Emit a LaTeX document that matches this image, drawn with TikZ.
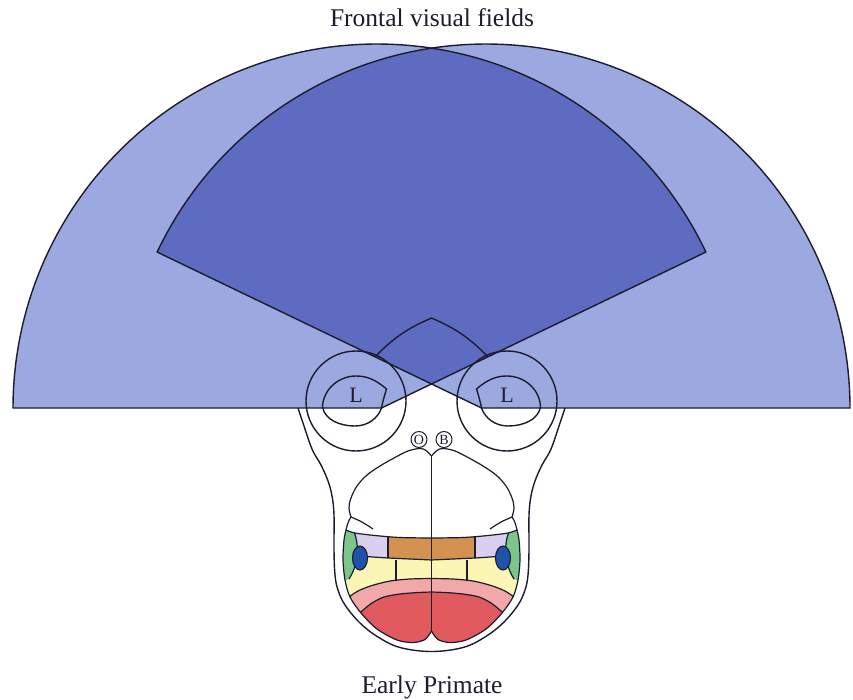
\documentclass[tikz,border=0pt]{standalone}
\usepackage{fontspec}
\setmainfont{Liberation Serif}
\definecolor{ink}{RGB}{28,28,45}
\definecolor{fieldlight}{RGB}{156,168,224}
\definecolor{fielddark}{RGB}{93,107,192}
\definecolor{lavc}{RGB}{216,208,238}
\definecolor{orangec}{RGB}{211,146,80}
\definecolor{greenc}{RGB}{124,198,140}
\definecolor{bluec}{RGB}{32,82,172}
\definecolor{yellowc}{RGB}{251,246,182}
\definecolor{pinkc}{RGB}{242,168,168}
\definecolor{redc}{RGB}{224,90,94}

% outline of the lens of the left eye (mirrored for the right eye)
\newcommand\lensoutline{%
  \draw[outline] (381.5,408) .. controls (383,400) and (385,394) .. (386.5,389)
    .. controls (375,379) and (366,376) .. (356,376)
    .. controls (338,376) and (323,390) .. (322.5,407)
    .. controls (325,420) and (340,426) .. (355,426)
    .. controls (368,426) and (378,418) .. (381.5,408) -- cycle;}

% one hemisphere of the brain (mirrored for the other one)
\newcommand\brainhalf{%
  % upper (white) lobe and its fold
  \draw[brainline] plot[smooth,tension=0.6] coordinates {(431.5,456) (426,450.5) (420,448.5) (408,451) (394,458) (380,466) (367,475) (357,486) (351,498) (349,508) (351,517)};
  \draw[brainline] plot[smooth] coordinates {(351,517) (360,521) (367,525) (373,529)};
  \draw[brainline] (351,517) .. controls (348,521) and (347,526) .. (346,530);
  % coloured cortex fields
  \begin{scope}
    \clip plot[smooth] coordinates {(431.5,538) (400,537.5) (375,535.5) (355,533) (346,530)}
      -- plot[smooth] coordinates {(346,530) (344,540) (343,560) (345,580) (350,597) (361,613) (377,629) (397,640) (413,642.5) (425,639.5) (431.5,631)} -- cycle;
    \fill[yellowc] (320,520) rectangle (440,660);
    \fill[lavc] (320,520) -- (388,520) -- (388,558) -- (340,555.5) -- (320,555.5) -- cycle;
    \fill[orangec] (388,520) -- (440,520) -- (440,560) -- (432,560) -- (388,558) -- cycle;
    \fill[greenc] (320,520) -- (352,520) -- (352.5,529) .. controls (359,540) and (360,562) .. (349,579) -- (320,590) -- cycle;
    \fill[pinkc] plot[smooth] coordinates {(340,604) (347,598.5) (358,591) (372,585.5) (390,581) (410,579) (432,578.5)} -- (440,578.5) -- (440,660) -- (320,660) -- cycle;
    \fill[redc] plot[smooth] coordinates {(352,620) (362,611) (372,603) (384,597) (400,594) (418,592.5) (432,592)} -- (440,592) -- (440,660) -- (320,660) -- cycle;
    \draw[brainline] (358,556) -- (388,558) -- (432,560);
    \draw[brainline] (388,536) -- (388,558);
    \draw[brainline] (396,559.5) -- (396,581);
    \draw[brainline] (352.5,529) .. controls (359,540) and (360,562) .. (349,579);
    \draw[brainline] plot[smooth] coordinates {(340,604) (347,598.5) (358,591) (372,585.5) (390,581) (410,579) (432,578.5)};
    \draw[brainline] plot[smooth] coordinates {(352,620) (362,611) (372,603) (384,597) (400,594) (418,592.5) (432,592)};
  \end{scope}
  \draw[brainline] plot[smooth] coordinates {(431.5,538) (400,537.5) (375,535.5) (355,533) (346,530)}
      -- plot[smooth] coordinates {(346,530) (344,540) (343,560) (345,580) (350,597) (361,613) (377,629) (397,640) (413,642.5) (425,639.5) (431.5,631)};
  \filldraw[fill=bluec,draw=ink,line width=1.1pt] (360,558) ellipse[x radius=7.5,y radius=12];
}

\begin{document}
\begin{tikzpicture}[x=1pt,y=-1pt,line join=round,
  outline/.style={draw=ink,line width=1.4pt},
  brainline/.style={draw=ink,line width=1.2pt},
  caption/.style={font=\fontsize{25.5}{30}\selectfont,text=ink},
  lenslabel/.style={font=\fontsize{22}{26}\selectfont,text=ink},
  bulb/.style={circle,draw=ink,line width=1pt,inner sep=0pt,minimum size=16pt,font=\fontsize{14}{14}\selectfont,text=ink}]
\useasboundingbox (0,0) rectangle (853,699);
\fill[white] (0,0) rectangle (853,699);

% monocular fields of the two eyes
\fill[fieldlight] (381.5,408) -- (13,408) -- plot[domain=180:25.37,samples=150] ({377+364*cos(\x)},{408-364*sin(\x)}) -- (706,252) -- cycle;
\fill[fieldlight] (481.5,408) -- (850,408) -- plot[domain=0:154.63,samples=150] ({486+364*cos(\x)},{408-364*sin(\x)}) -- (157,252) -- cycle;
% binocular overlap
\begin{scope}
  \clip (381.5,408) -- (13,408) -- plot[domain=180:25.37,samples=150] ({377+364*cos(\x)},{408-364*sin(\x)}) -- (706,252) -- cycle;
  \fill[fielddark] (481.5,408) -- (850,408) -- plot[domain=0:154.63,samples=150] ({486+364*cos(\x)},{408-364*sin(\x)}) -- (157,252) -- cycle;
\end{scope}
\draw[outline] (381.5,408) -- (13,408) -- plot[domain=180:25.37,samples=150] ({377+364*cos(\x)},{408-364*sin(\x)}) -- (706,252) -- cycle;
\draw[outline] (481.5,408) -- (850,408) -- plot[domain=0:154.63,samples=150] ({486+364*cos(\x)},{408-364*sin(\x)}) -- (157,252) -- cycle;

% pointed arch above the crossing
\coordinate (archL) at (375,356.8);
\coordinate (archTop) at (431.5,318);
\coordinate (archR) at (488,356.8);
\draw[outline] (archL) to[bend left=11] (archTop) to[bend left=11] (archR);

% skull outline
\draw[outline] plot[smooth,tension=0.6] coordinates {(298,408) (303,423) (312,449) (321,465) (328,481) (332,496) (334,515) (334,550) (335,575) (338,590) (345,605) (360,623) (378,637) (400,647.5) (431.5,651.5) (463,647.5) (485,637) (503,623) (518,605) (525,590) (528,575) (529,550) (529,515) (531,496) (535,481) (542,465) (551,449) (560,423) (565,408)};

% eyes
\draw[outline] (356,401) circle[radius=50];
\draw[outline] (507,401) circle[radius=50];
\lensoutline
\begin{scope}[xshift=863pt,xscale=-1]
  \lensoutline
\end{scope}
\node[lenslabel] (lensletterL) at (356,395) {L};
\node[lenslabel] (lensletterR) at (507,395) {L};

% brain
\brainhalf
\begin{scope}[xshift=863pt,xscale=-1]
  \brainhalf
\end{scope}
\draw[brainline] (431.5,456) -- (431.5,631);
\node[bulb] (olfactory) at (419,439.5) {O};
\node[bulb] (bulbB) at (444,439.5) {B};

% captions
\node[caption] (title) at (432,17.5) {Frontal visual fields};
\node[caption] (species) at (432,687) {Early Primate};
\end{tikzpicture}
\end{document}
